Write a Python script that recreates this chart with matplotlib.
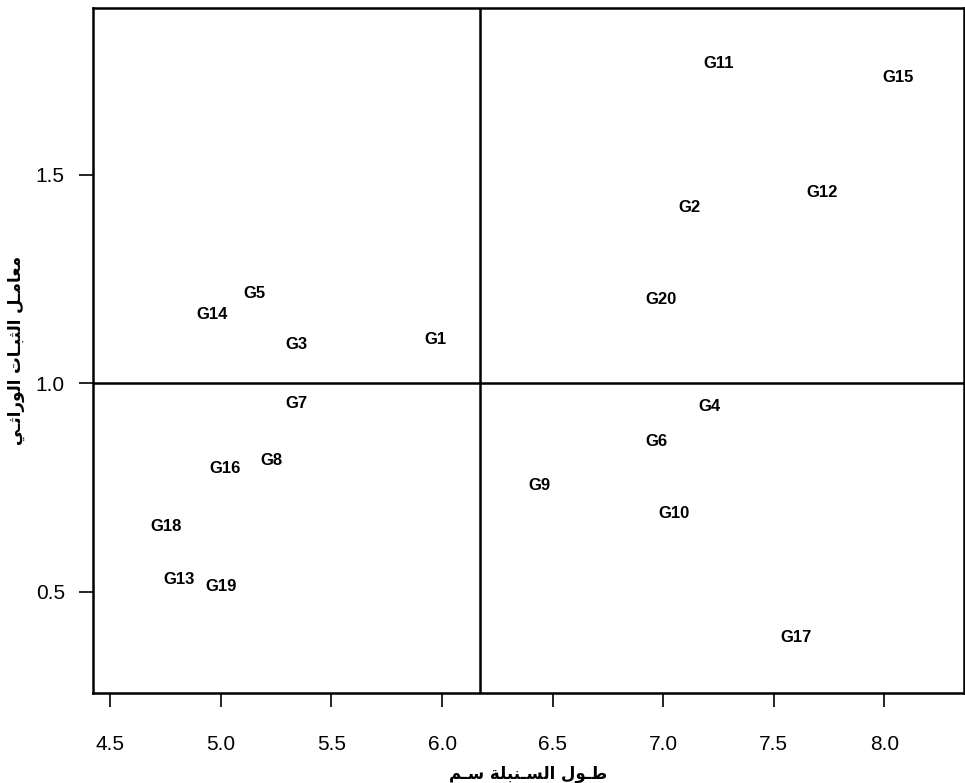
import matplotlib
matplotlib.use("Agg")
import matplotlib.pyplot as plt

# genotype labels and their coordinates
genotypes = ["G1", "G2", "G3", "G4", "G5", "G6", "G7", "G8", "G9", "G10",
             "G11", "G12", "G13", "G14", "G15", "G16", "G17", "G18", "G19", "G20"]
spike_length = [5.97, 7.12, 5.34, 7.21, 5.15, 6.97, 5.34, 5.23, 6.44, 7.05,
                7.25, 7.72, 4.81, 4.96, 8.06, 5.02, 7.60, 4.75, 5.00, 6.99]
stability = [1.104, 1.421, 1.092, 0.944, 1.215, 0.860, 0.951, 0.814, 0.754, 0.689,
             1.766, 1.457, 0.531, 1.164, 1.733, 0.795, 0.392, 0.658, 0.512, 1.200]
mean_length = 6.17
ref_stability = 1.0

x_ticks = [4.5, 5.0, 5.5, 6.0, 6.5, 7.0, 7.5, 8.0]
y_ticks = [0.5, 1.0, 1.5]
x_title = "طـول السـنبلة سـم"
y_title = "معامـل الثبـات الوراثـي"

# arabic letter forms: isolated, final, initial, medial
FORMS = {
    "\u0627": ("\uFE8D", "\uFE8E", None, None),
    "\u0628": ("\uFE8F", "\uFE90", "\uFE91", "\uFE92"),
    "\u0629": ("\uFE93", "\uFE94", None, None),
    "\u062A": ("\uFE95", "\uFE96", "\uFE97", "\uFE98"),
    "\u062B": ("\uFE99", "\uFE9A", "\uFE9B", "\uFE9C"),
    "\u0631": ("\uFEAD", "\uFEAE", None, None),
    "\u0633": ("\uFEB1", "\uFEB2", "\uFEB3", "\uFEB4"),
    "\u0637": ("\uFEC1", "\uFEC2", "\uFEC3", "\uFEC4"),
    "\u0639": ("\uFEC9", "\uFECA", "\uFECB", "\uFECC"),
    "\u0644": ("\uFEDD", "\uFEDE", "\uFEDF", "\uFEE0"),
    "\u0645": ("\uFEE1", "\uFEE2", "\uFEE3", "\uFEE4"),
    "\u0646": ("\uFEE5", "\uFEE6", "\uFEE7", "\uFEE8"),
    "\u0648": ("\uFEED", "\uFEEE", None, None),
    "\u064A": ("\uFEF1", "\uFEF2", "\uFEF3", "\uFEF4"),
    "\u0640": ("\u0640", "\u0640", "\u0640", "\u0640"),
}


def shape(text):
    out = []
    for i, ch in enumerate(text):
        if ch not in FORMS:
            out.append(ch)
            continue
        prev = text[i - 1] if i > 0 else None
        nxt = text[i + 1] if i + 1 < len(text) else None
        join_prev = prev in FORMS and FORMS[prev][2] is not None
        join_next = FORMS[ch][2] is not None and nxt in FORMS
        iso, fin, ini, med = FORMS[ch]
        if join_prev and join_next:
            out.append(med)
        elif join_prev:
            out.append(fin)
        elif join_next:
            out.append(ini)
        else:
            out.append(iso)
    return "".join(out)[::-1]


plt.rcParams['font.family'] = ['Liberation Sans', 'DejaVu Sans']

fig = plt.figure(figsize=(9.65, 7.83), dpi=100)
ax = fig.add_axes([0.096, 0.115, 0.903, 0.875])

for name, xv, yv in zip(genotypes, spike_length, stability):
    ax.text(xv, yv, name, ha='center', va='center', fontsize=12,
            fontweight='bold', color='black')

ax.axvline(mean_length, color='black', lw=1.8)
ax.axhline(ref_stability, color='black', lw=1.8)

ax.set_xlim(4.42, 8.36)
ax.set_ylim(0.258, 1.90)
ax.set_xticks(x_ticks)
ax.set_xticklabels([f"{v:.1f}" for v in x_ticks])
ax.set_yticks(y_ticks)
ax.set_yticklabels([f"{v:.1f}" for v in y_ticks])
ax.tick_params(axis='both', labelsize=15, length=10, width=1.2, direction='out')
ax.tick_params(axis='x', pad=20)
ax.tick_params(axis='y', pad=10)

for sp in ax.spines.values():
    sp.set_linewidth(1.8)

ax.set_xlabel(shape(x_title), fontsize=12, fontweight='bold',
              family=['DejaVu Sans'], labelpad=8)
ax.set_ylabel(shape(y_title), fontsize=12, fontweight='bold',
              family=['DejaVu Sans'], labelpad=8)

fig.savefig("out.png", dpi=100)
